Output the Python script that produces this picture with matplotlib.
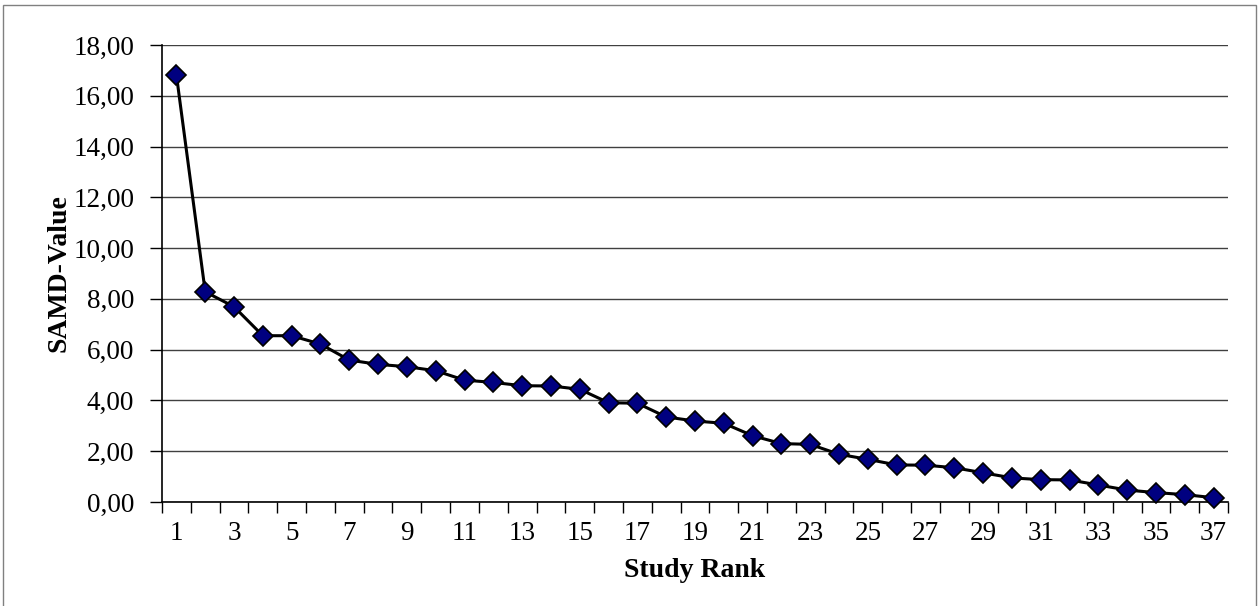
import matplotlib
matplotlib.use("Agg")
import matplotlib.pyplot as plt
from matplotlib.ticker import FuncFormatter, FixedLocator
from matplotlib.patches import Rectangle

ranks = list(range(1, 38))
samd_values = [16.82, 8.28, 7.69, 6.55, 6.55, 6.22, 5.59, 5.42, 5.33, 5.17,
               4.80, 4.71, 4.58, 4.57, 4.44, 3.91, 3.89, 3.35, 3.19, 3.10,
               2.61, 2.30, 2.27, 1.88, 1.68, 1.46, 1.45, 1.35, 1.15, 0.95,
               0.88, 0.87, 0.67, 0.47, 0.37, 0.29, 0.17]
y_ticks = [0, 2, 4, 6, 8, 10, 12, 14, 16, 18]
x_tick_labels = [str(r) for r in ranks[::2]]
x_label = "Study Rank"
y_label = "SAMD-Value"

plt.rcParams['font.family'] = ['Liberation Serif', 'DejaVu Serif']

W, H = 1258, 606
fig = plt.figure(figsize=(W / 100, H / 100), dpi=100)
fig.patches.append(Rectangle((3 / W, -0.01), (W - 5) / W, (H - 5) / H + 0.01, transform=fig.transFigure,
                             fill=False, edgecolor='#808080', linewidth=1.0))

ax = fig.add_axes([162 / W, 1 - 502 / H, (1228 - 162) / W, (502 - 45) / H])

ax.plot(ranks, samd_values, color='black', linewidth=2.2, marker='D', markersize=10,
        markerfacecolor='#000080', markeredgecolor='black', markeredgewidth=1.2,
        zorder=3, clip_on=False)

ax.set_xlim(0.5, 37.5)
ax.set_ylim(0, 18)
ax.set_yticks(y_ticks)
ax.yaxis.set_major_formatter(FuncFormatter(lambda v, p: f"{v:.2f}".replace('.', ',')))
ax.grid(axis='y', color='#404040', linewidth=1.0)
ax.set_axisbelow(True)

ax.xaxis.set_major_locator(FixedLocator(ranks[::2]))
ax.set_xticklabels(x_tick_labels)
ax.xaxis.set_minor_locator(FixedLocator([r - 0.5 for r in ranks] + [37.5]))
ax.tick_params(axis='x', which='major', length=0, pad=14, labelsize=19.5)
ax.tick_params(axis='x', which='minor', length=8, width=1.0, direction='out', color='black')
ax.tick_params(axis='y', which='major', length=9, width=1.0, direction='out', pad=11, labelsize=19.5)

for s in ['top', 'right']:
    ax.spines[s].set_visible(False)
for s in ['left', 'bottom']:
    ax.spines[s].set_color('black')
    ax.spines[s].set_linewidth(1.2)

ax.set_xlabel(x_label, fontsize=20, fontweight='bold', labelpad=8)
ax.set_ylabel(y_label, fontsize=20, fontweight='bold', labelpad=1)

fig.savefig("out.png", dpi=100)
